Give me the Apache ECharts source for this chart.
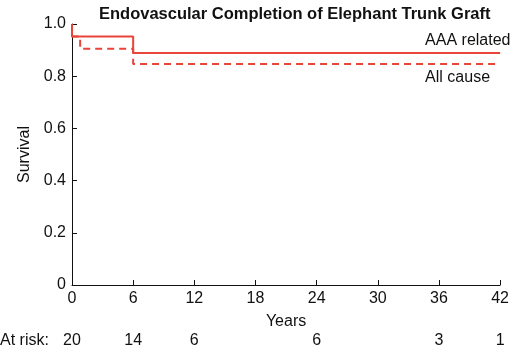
<!DOCTYPE html>
<html>
<head>
<meta charset="utf-8">
<script src="https://cdn.jsdelivr.net/npm/echarts@6/dist/echarts.min.js"></script>
<style>
  html, body { margin: 0; padding: 0; background: #fff; }
  #chart { width: 512px; height: 351px; }
</style>
</head>
<body>
<div id="chart"></div>
<script>
// Kaplan-Meier steps (years, survival)
const aaaRelated = [[0, 1], [0, 0.952], [6, 0.889], [42, 0.889]];
const allCause = [[0, 1], [0, 0.952], [0.8, 0.905], [6, 0.847], [42, 0.847]];
const curveNames = ["AAA related", "All cause"];
const riskYears = [0, 6, 12, 24, 36, 42];
const riskCounts = [20, 14, 6, 6, 3, 1];
const xTicks = [0, 6, 12, 18, 24, 30, 36, 42];

const font = "'Liberation Sans', Arial, Helvetica, sans-serif";
const red = "#e8443a";
const riskMap = {};
riskYears.forEach((y, i) => { riskMap[y] = riskCounts[i]; });
const lastA = aaaRelated[aaaRelated.length - 1];
const lastB = allCause[allCause.length - 1];

const chart = echarts.init(document.getElementById("chart"));
chart.setOption({
  animation: false,
  textStyle: { fontFamily: font },
  title: {
    text: "Endovascular Completion of Elephant Trunk Graft",
    left: 94,
    top: 1,
    textStyle: { fontFamily: font, fontSize: 16.5, fontWeight: "bold", color: "#111" }
  },
  graphic: [{
    type: "text",
    left: 0,
    top: 333,
    style: { text: "At risk:", font: "16px " + font, fill: "#111" }
  }],
  grid: { left: 72, right: 10, top: 24, bottom: 66 },
  xAxis: [
    {
      type: "value",
      min: 0, max: 42, interval: 6,
      name: "Years",
      nameLocation: "middle",
      nameGap: 29,
      nameTextStyle: { fontFamily: font, fontSize: 16, color: "#111" },
      axisLine: { onZero: false, lineStyle: { color: "#111", width: 1 } },
      axisTick: { inside: true, length: 5, lineStyle: { color: "#111" } },
      axisLabel: { margin: 6, fontSize: 16, color: "#111", fontFamily: font,
        formatter: (v) => xTicks.includes(v) ? String(v) : "" },
      splitLine: { show: false }
    },
    {
      type: "value",
      position: "bottom",
      offset: 45,
      min: 0, max: 42, interval: 6,
      axisLine: { show: false },
      axisTick: { show: false },
      axisLabel: { margin: 3, fontSize: 16, color: "#111", fontFamily: font,
        formatter: (v) => riskMap[v] !== undefined ? String(riskMap[v]) : "" },
      splitLine: { show: false }
    }
  ],
  yAxis: {
    type: "value",
    min: 0, max: 1, interval: 0.2,
    name: "Survival",
    nameLocation: "middle",
    nameGap: 37,
    nameTextStyle: { fontFamily: font, fontSize: 16, color: "#111" },
    axisLine: { show: true, lineStyle: { color: "#111", width: 1 } },
    axisTick: { show: true, inside: true, length: 5, lineStyle: { color: "#111" } },
    axisLabel: { margin: 6, fontSize: 16, color: "#111", fontFamily: font,
      formatter: (v) => v === 0 ? "0" : v.toFixed(1) },
    splitLine: { show: false }
  },
  series: [
    {
      name: curveNames[0],
      type: "line",
      step: "end",
      symbol: "none",
      data: aaaRelated,
      lineStyle: { color: red, width: 2 },
      z: 3
    },
    {
      name: curveNames[1],
      type: "line",
      step: "end",
      symbol: "none",
      data: allCause,
      lineStyle: { color: red, width: 2, type: [7, 5] },
      z: 2
    },
    {
      type: "scatter",
      symbolSize: 2,
      itemStyle: { color: "#fff", opacity: 1 },
      silent: true,
      z: 1,
      data: [
        { value: lastA, name: curveNames[0] },
        { value: lastB, name: curveNames[1] }
      ].map((d, i) => ({
        value: d.value,
        label: {
          show: true,
          formatter: d.name,
          position: i === 0 ? [-74, -11] : [-74, 15],
          align: "left",
          verticalAlign: "middle",
          fontSize: 16,
          color: "#111",
          textBorderWidth: 0,
          opacity: 1,
          fontFamily: font
        }
      }))
    }
  ]
});
</script>
</body>
</html>
